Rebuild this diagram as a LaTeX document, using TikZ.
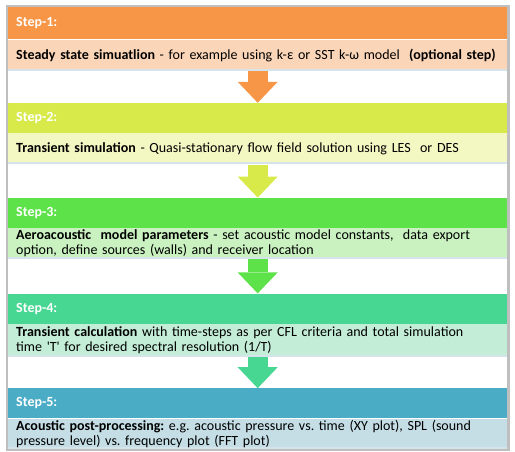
\documentclass[tikz,border=0pt]{standalone}
\usepackage{fontspec}
\setmainfont{Carlito}
\frenchspacing
\usetikzlibrary{positioning,arrows.meta,fit}

\definecolor{hdone}{HTML}{F79646}
\definecolor{bdone}{HTML}{FBD5B7}
\definecolor{hdtwo}{HTML}{D7EA4A}
\definecolor{bdtwo}{HTML}{F3F7C2}
\definecolor{hdthree}{HTML}{5EE24A}
\definecolor{bdthree}{HTML}{C9F2C0}
\definecolor{hdfour}{HTML}{48D693}
\definecolor{bdfour}{HTML}{C3EDD7}
\definecolor{hdfive}{HTML}{4BACC6}
\definecolor{bdfive}{HTML}{C5DEE6}
\definecolor{sepline}{HTML}{D5E3EA}

\begin{document}
\begin{tikzpicture}[
    node distance=32pt,
    stephead/.style={rectangle, fill=#1, text=white, font=\fontsize{14}{15}\selectfont\frenchspacing\bfseries, minimum height=30pt, text width=483pt, inner xsep=8pt, inner ysep=0pt, align=left},
    stepbody/.style={rectangle, fill=#1, font=\fontsize{14}{15}\selectfont\frenchspacing, minimum height=31pt, text width=483pt, inner xsep=8pt, inner ysep=1pt, align=left,
        path picture={\draw[sepline, line width=2pt] ([yshift=1pt]path picture bounding box.south west) -- ([yshift=1pt]path picture bounding box.south east);}},
    arr/.style={draw=#1, line width=20pt, -{Triangle[width=40pt, length=21pt, line width=0pt]}},
    frame/.style={draw=gray!50, line width=2.5pt, inner sep=1pt}
]
\useasboundingbox (0,0) rectangle (515pt,-452pt);

\node[stephead=hdone, minimum height=32pt, anchor=north west] (h1) at (8pt,-7pt) {Step-1:};
\node[stepbody=bdone, below=0pt of h1] (b1) {\mbox{\textbf{Steady state simuatlion} - for example using k-ε or SST k-ω model~ \textbf{(optional step)}}};
\node[stephead=hdtwo, below=of b1] (h2) {Step-2:};
\node[stepbody=bdtwo, below=0pt of h2] (b2) {\textbf{Transient simulation} - Quasi-stationary flow field solution using LES~ or DES};
\node[stephead=hdthree, below=33pt of b2] (h3) {Step-3:};
\node[stepbody=bdthree, below=0pt of h3] (b3) {\textbf{Aeroacoustic~ model parameters} - set acoustic model constants,~ data export\\option, define sources (walls) and receiver location};
\node[stephead=hdfour, below=34pt of b3] (h4) {Step-4:};
\node[stepbody=bdfour, minimum height=33pt, below=0pt of h4] (b4) {\textbf{Transient calculation} with time-steps as per CFL criteria and total simulation\\time \textquotesingle T\textquotesingle{} for desired spectral resolution (1/T)};
\node[stephead=hdfive, below=31pt of b4] (h5) {Step-5:};
\node[stepbody=bdfive, minimum height=30pt, below=0pt of h5] (b5) {\textbf{Acoustic post-processing:} e.g. acoustic pressure vs. time (XY plot), SPL (sound\\pressure level) vs. frequency plot (FFT plot)};

\node[frame, fit=(h1)(b5)] (box) {};

\draw[arr=hdone] (b1) -- (h2);
\draw[arr=hdtwo] (b2) -- (h3);
\draw[arr=hdthree] (b3) -- (h4);
\draw[arr=hdfour] (b4) -- (h5);

\end{tikzpicture}
\end{document}
